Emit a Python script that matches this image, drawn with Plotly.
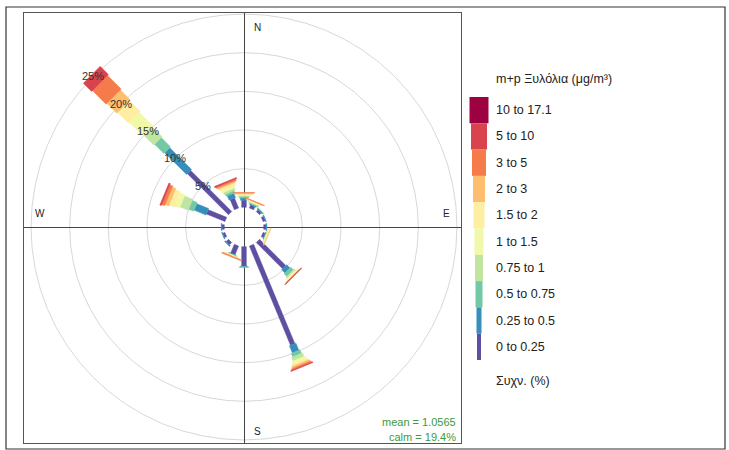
import math
import plotly.graph_objects as go

# ---------------- data ----------------
directions = [0, 22.5, 45, 67.5, 90, 112.5, 135, 157.5, 180, 202.5, 225, 247.5, 270, 292.5, 315, 337.5]
class_labels = ["0 to 0.25", "0.25 to 0.5", "0.5 to 0.75", "0.75 to 1", "1 to 1.5",
                "1.5 to 2", "2 to 3", "3 to 5", "5 to 10", "10 to 17.1"]
class_colors = ["#5E4FA2", "#388EBA", "#75C8A5", "#BFE5A0", "#F1F9A9",
                "#FEEEA2", "#FDBF6F", "#F67B4A", "#D8434E", "#9E0142"]

# frequency (%) of each concentration class per direction (N, NNE, ... NNW)
freq_0_025    = [0.9, 0.4, 0.3, 0.3, 0.3, 0.3, 4.8, 13.9, 2.5, 1.2, 0.4, 0.3, 0.3, 2.6, 7.5, 1.4]
freq_025_05   = [0.3, 0.15, 0.15, 0.1, 0.1, 0.1, 0.6, 1.0, 0.1, 0.1, 0.15, 0.1, 0.1, 1.65, 4.0, 0.6]
freq_05_075   = [0.2, 0.1, 0.05, 0.0, 0.0, 0.05, 0.5, 0.5, 0.1, 0.05, 0.0, 0.0, 0.0, 0.7, 1.7, 0.3]
freq_075_1    = [0.15, 0.1, 0.0, 0.0, 0.0, 0.05, 0.2, 0.5, 0.0, 0.05, 0.0, 0.0, 0.0, 1.15, 1.8, 0.3]
freq_1_15     = [0.1, 0.1, 0.0, 0.0, 0.0, 0.1, 0.15, 0.3, 0.0, 0.05, 0.0, 0.0, 0.0, 0.7, 2.5, 0.3]
freq_15_2     = [0.1, 0.1, 0.0, 0.0, 0.0, 0.1, 0.1, 0.3, 0.0, 0.05, 0.0, 0.0, 0.0, 0.7, 2.0, 0.3]
freq_2_3      = [0.1, 0.05, 0.0, 0.0, 0.0, 0.05, 0.05, 0.25, 0.0, 0.05, 0.0, 0.0, 0.0, 0.5, 1.8, 0.2]
freq_3_5      = [0.05, 0.05, 0.0, 0.0, 0.0, 0.0, 0.05, 0.2, 0.0, 0.1, 0.0, 0.0, 0.0, 0.4, 2.5, 0.2]
freq_5_10     = [0.0, 0.0, 0.0, 0.0, 0.0, 0.0, 0.05, 0.1, 0.0, 0.0, 0.0, 0.0, 0.0, 0.2, 1.5, 0.15]
freq_10_171   = [0.0] * 16

ring_values = [5, 10, 15, 20, 25]
mean_value = "1.0565"
calm_pct = 19.4
pollutant_title = "m+p Ξυλόλια (μg/m³)"
freq_title = "Συχν. (%)"

classes = [freq_0_025, freq_025_05, freq_05_075, freq_075_1, freq_1_15,
           freq_15_2, freq_2_3, freq_3_5, freq_5_10, freq_10_171]

# ---------------- geometry / style ----------------
W, H = 729, 450
PL, PT, PR, PB = 24, 13, 461, 443     # panel box in pixels
CX, CY = 244, 227                      # centre in pixels
SCALE = 7.73                           # pixels per % unit
OFFSET = 2.55                          # calm offset (% units)

def px2paper_x(x):
    return (x - PL) / (PR - PL)

def px2paper_y(y):
    return (PB - y) / (PB - PT)

xr = [-(CX - PL) / SCALE, (PR - CX) / SCALE]
yr = [-(PB - CY) / SCALE, (CY - PT) / SCALE]

def half_width(i):
    return (2.2 + 2.4 * (i + 1)) / 2 / SCALE

fig = go.Figure()

# rings
for v in ring_values:
    R = v + OFFSET
    fig.add_shape(type="circle", xref="x", yref="y", x0=-R, x1=R, y0=-R, y1=R,
                  line=dict(color="#D8D8D8", width=1), layer="below")

# paddles
for ci, series in enumerate(classes):
    xs, ys = [], []
    h = half_width(ci)
    for di, d in enumerate(directions):
        f = series[di]
        if f <= 0:
            continue
        start = sum(classes[k][di] for k in range(ci))
        l1 = OFFSET + start
        l2 = l1 + f
        t = math.radians(d)
        ux, uy = math.sin(t), math.cos(t)
        pxv, pyv = math.cos(t), -math.sin(t)
        pts = [(l1 * ux - h * pxv, l1 * uy - h * pyv),
               (l2 * ux - h * pxv, l2 * uy - h * pyv),
               (l2 * ux + h * pxv, l2 * uy + h * pyv),
               (l1 * ux + h * pxv, l1 * uy + h * pyv),
               (l1 * ux - h * pxv, l1 * uy - h * pyv)]
        for a, b in pts:
            xs.append(a); ys.append(b)
        xs.append(None); ys.append(None)
    if xs:
        fig.add_trace(go.Scatter(x=xs, y=ys, mode="lines", fill="toself",
                                 fillcolor=class_colors[ci],
                                 line=dict(width=0.5, color=class_colors[ci]),
                                 hoverinfo="skip", showlegend=False))

# ring labels at 315 degrees
for v in ring_values:
    R = v + OFFSET
    a = math.radians(315)
    fig.add_annotation(x=R * math.sin(a), y=R * math.cos(a), text=f"{v}%",
                       showarrow=False, font=dict(size=11, color="#333333"),
                       xanchor="center", yanchor="middle")

# compass labels
lab_off = 1.7
fig.add_annotation(x=lab_off, y=(CY - 27) / SCALE, text="N", showarrow=False,
                   font=dict(size=10, color="#222"))
fig.add_annotation(x=lab_off, y=-(431 - CY) / SCALE, text="S", showarrow=False,
                   font=dict(size=10, color="#222"))
fig.add_annotation(x=(446 - CX) / SCALE, y=lab_off, text="E", showarrow=False,
                   font=dict(size=10, color="#222"))
fig.add_annotation(x=-(CX - 40) / SCALE, y=lab_off, text="W", showarrow=False,
                   font=dict(size=10, color="#222"))

# mean / calm
fig.add_annotation(xref="paper", yref="paper", x=px2paper_x(458), y=px2paper_y(422),
                   text=f"mean = {mean_value}", showarrow=False, xanchor="right",
                   yanchor="middle", font=dict(size=11, color="#3C9A3C"))
fig.add_annotation(xref="paper", yref="paper", x=px2paper_x(458), y=px2paper_y(437),
                   text=f"calm = {calm_pct}%", showarrow=False, xanchor="right",
                   yanchor="middle", font=dict(size=11, color="#3C9A3C"))

# key (legend)
key_top, key_h = 97, 26.3
key_cx = 479
key_widths = [4, 5, 7, 8, 9, 11, 12, 14, 16, 19]
n = len(class_labels)
for j in range(n):
    ci = n - 1 - j
    y0 = key_top + j * key_h
    y1 = y0 + key_h
    w = key_widths[ci]
    fig.add_shape(type="rect", xref="paper", yref="paper",
                  x0=px2paper_x(key_cx - w / 2), x1=px2paper_x(key_cx + w / 2),
                  y0=px2paper_y(y1), y1=px2paper_y(y0),
                  fillcolor=class_colors[ci], line=dict(width=0))
    fig.add_annotation(xref="paper", yref="paper", x=px2paper_x(494),
                       y=px2paper_y((y0 + y1) / 2), text=class_labels[ci],
                       showarrow=False, xanchor="left", yanchor="middle",
                       font=dict(size=12.5, color="#222"))
fig.add_annotation(xref="paper", yref="paper", x=px2paper_x(494), y=px2paper_y(79),
                   text=pollutant_title, showarrow=False, xanchor="left", yanchor="middle",
                   font=dict(size=12.5, color="#222"))
fig.add_annotation(xref="paper", yref="paper", x=px2paper_x(494), y=px2paper_y(381),
                   text=freq_title, showarrow=False, xanchor="left", yanchor="middle",
                   font=dict(size=12.5, color="#222"))

# outer frame
fig.add_shape(type="rect", xref="paper", yref="paper",
              x0=px2paper_x(6), x1=px2paper_x(725), y0=px2paper_y(449), y1=px2paper_y(7),
              line=dict(color="#333", width=1.2))

axis_common = dict(showgrid=False, showticklabels=False, ticks="", zeroline=True,
                   zerolinecolor="#444", zerolinewidth=1.2, showline=True,
                   linecolor="#555", linewidth=1.2, mirror=True, fixedrange=True)
fig.update_layout(
    width=W, height=H,
    margin=dict(l=PL, r=W - PR, t=PT, b=H - PB, pad=0),
    paper_bgcolor="white", plot_bgcolor="white",
    font=dict(family="Liberation Sans, Arial, sans-serif"),
    xaxis=dict(range=xr, **axis_common),
    yaxis=dict(range=yr, **axis_common),
    showlegend=False,
)
fig.write_html("out.html", config={"displayModeBar": False},
               post_script="document.body.style.margin='0';document.body.style.overflow='hidden';")
